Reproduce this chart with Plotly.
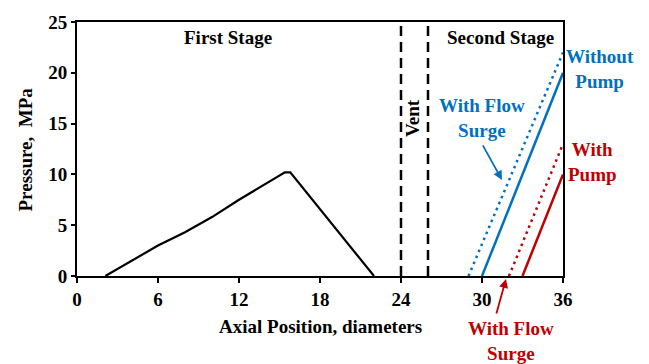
import plotly.graph_objects as go

# Data
stage1_x = [2.1, 6, 8, 10, 12, 14, 15.1, 15.4, 15.8, 22]
stage1_y = [0, 3.0, 4.3, 5.8, 7.5, 9.1, 10.0, 10.2, 10.2, 0]
vent_x = [24, 26]
vent_y = [0, 25]
blue_surge_x = [29.0, 36]
blue_surge_y = [0, 22.0]
blue_x = [30.0, 36]
blue_y = [0, 20.0]
red_surge_x = [32.0, 36]
red_surge_y = [0, 13.0]
red_x = [33.0, 36]
red_y = [0, 10.0]
x_ticks = [0, 6, 12, 18, 24, 30, 36]
y_ticks = [0, 5, 10, 15, 20, 25]

BLUE = "#0070C0"
RED = "#C00000"
FONT = "Liberation Serif"
FS = 19

L, R, T, B = 77, 563, 17, 276
W, H = 649, 364

fig = go.Figure()
fig.add_trace(go.Scatter(x=stage1_x, y=stage1_y, mode="lines",
                         line=dict(color="black", width=2.2)))
for vx in vent_x:
    fig.add_trace(go.Scatter(x=[vx, vx], y=vent_y, mode="lines",
                             line=dict(color="black", width=2.5, dash="10px,6px")))
fig.add_trace(go.Scatter(x=blue_surge_x, y=blue_surge_y, mode="lines",
                         line=dict(color=BLUE, width=2.5, dash="2.5px,4px")))
fig.add_trace(go.Scatter(x=blue_x, y=blue_y, mode="lines",
                         line=dict(color=BLUE, width=2.5)))
fig.add_trace(go.Scatter(x=red_surge_x, y=red_surge_y, mode="lines",
                         line=dict(color=RED, width=2.5, dash="2.5px,4px")))
fig.add_trace(go.Scatter(x=red_x, y=red_y, mode="lines",
                         line=dict(color=RED, width=2.5)))

def px2x(p):
    return (p - L) / (R - L)

def px2y(p):
    return (B - p) / (B - T)

def txt(text, px, py, color="black", angle=0):
    fig.add_annotation(text=text, x=px2x(px), y=px2y(py), xref="paper", yref="paper",
                       showarrow=False, textangle=angle,
                       font=dict(family=FONT, size=FS, color=color, weight="bold"),
                       xanchor="center", yanchor="middle")

txt("First Stage", 228, 33)
txt("Second Stage", 500, 33)
txt("Vent", 412, 115, angle=-90)
txt("With Flow<br>Surge", 482, 115, color=BLUE)
txt("Without<br>Pump", 600, 65, color=BLUE)
txt("With<br>Pump", 592, 160, color=RED)
txt("With Flow<br>Surge", 511, 342, color=RED)
txt("Pressure,  MPa", 25, 147, angle=-90)
txt("Axial Position, diameters", 320, 327)

def arrow(hx, hy, tx, ty, color):
    fig.add_annotation(x=px2x(hx), y=px2y(hy), ax=tx - hx, ay=ty - hy,
                       xref="paper", yref="paper", axref="pixel", ayref="pixel",
                       text="", showarrow=True, arrowhead=2, arrowsize=1,
                       arrowwidth=1.8, arrowcolor=color)

arrow(502, 178, 482, 142, BLUE)
arrow(506, 279, 496, 315, RED)

fig.update_layout(
    width=W, height=H,
    margin=dict(l=L, r=W - R, t=T, b=H - B),
    paper_bgcolor="white", plot_bgcolor="white",
    showlegend=False,
    font=dict(family=FONT, size=FS, color="black", weight="bold"),
)
fig.update_xaxes(range=[0, 36], tickvals=x_ticks, showgrid=False, zeroline=False,
                 showline=True, linecolor="black", linewidth=2, mirror=True,
                 ticks="outside", ticklen=5, tickwidth=1.5, tickcolor="black",
                 tickfont=dict(family=FONT, size=FS, weight="bold"))
fig.update_yaxes(range=[0, 25], tickvals=y_ticks, showgrid=False, zeroline=False,
                 showline=True, linecolor="black", linewidth=2, mirror=True,
                 ticks="outside", ticklen=4, tickwidth=1.5, tickcolor="black",
                 tickfont=dict(family=FONT, size=FS, weight="bold"))

fig.write_html("out.html")
